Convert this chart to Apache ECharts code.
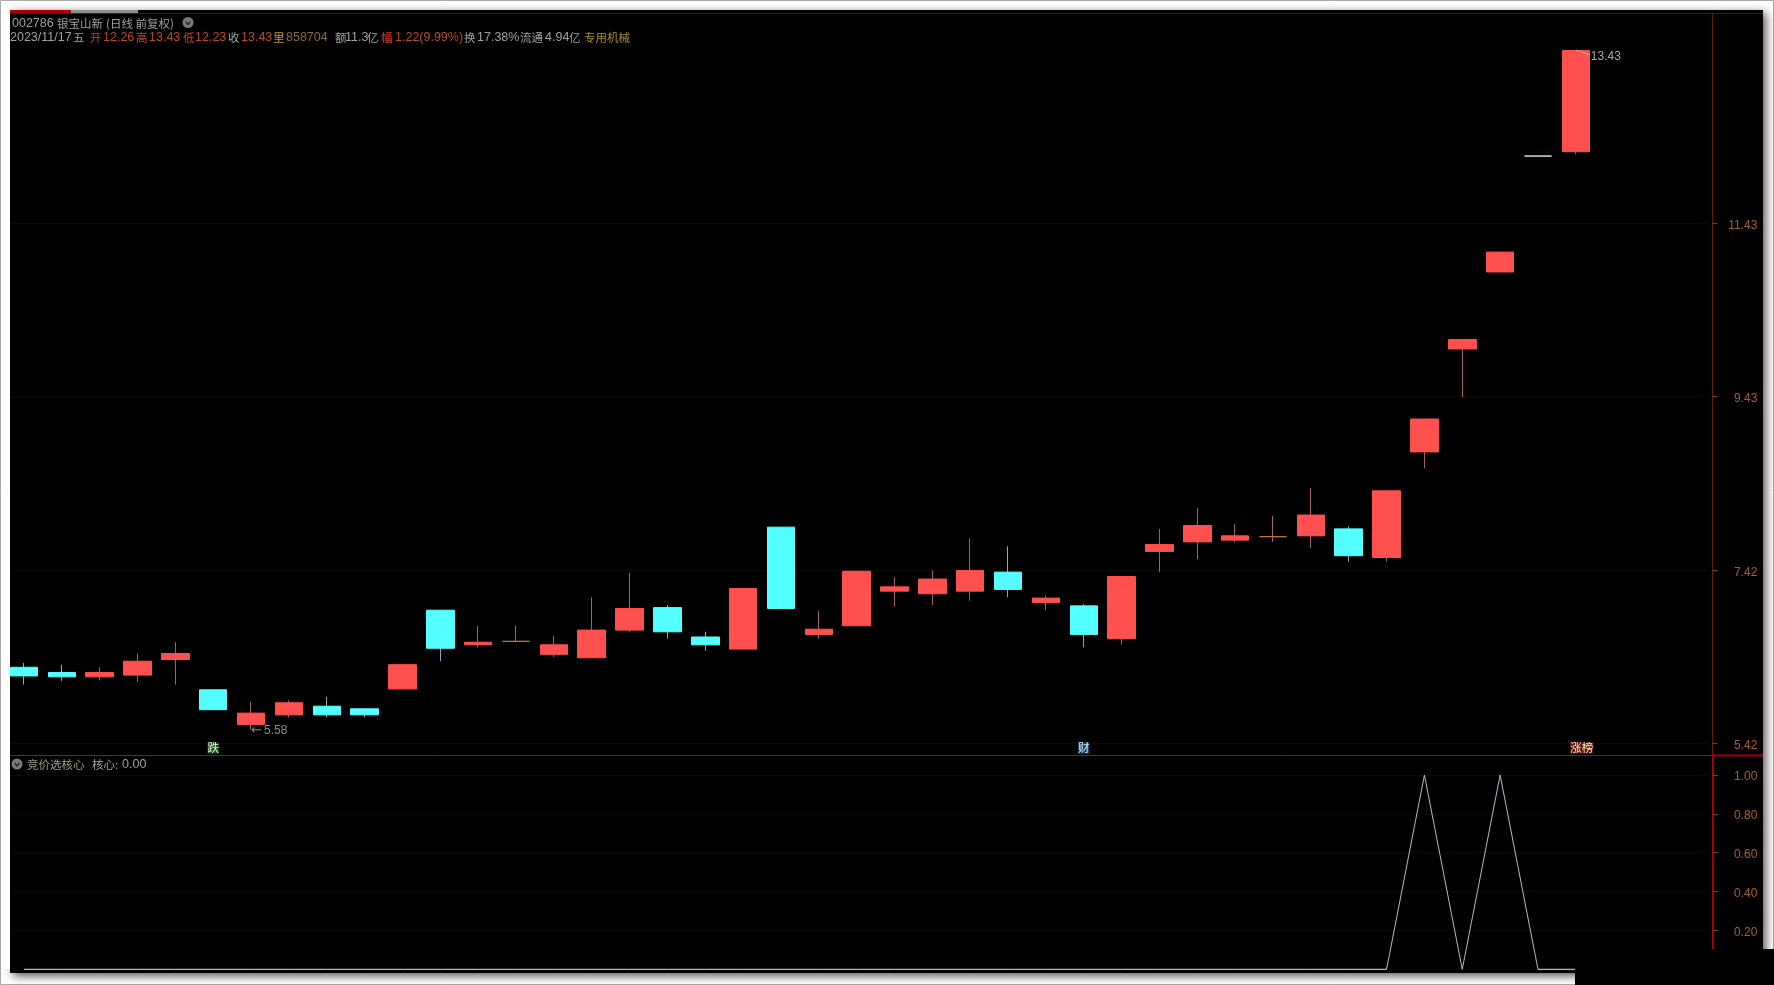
<!DOCTYPE html>
<html>
<head>
<meta charset="utf-8">
<title>002786 银宝山新</title>
<style>
  html, body { margin: 0; padding: 0; background: #fff; }
  #chart { width: 1774px; height: 985px; }
</style>
<script src="https://cdn.jsdelivr.net/npm/echarts@6/dist/echarts.min.js"></script>
</head>
<body>
<div id="chart"></div>
<script>
const days = [
  'D01', 'D02', 'D03', 'D04', 'D05', 'D06', 'D07', 'D08', 'D09', 'D10', 'D11', 'D12', 'D13', 'D14',
  'D15', 'D16', 'D17', 'D18', 'D19', 'D20', 'D21', 'D22', 'D23', 'D24', 'D25', 'D26', 'D27', 'D28',
  'D29', 'D30', 'D31', 'D32', 'D33', 'D34', 'D35', 'D36', 'D37', 'D38', 'D39', 'D40', 'D41', '2023/11/17'
];
const blankSlots = [' ', '  ', '   '];

const opens = [
  6.30, 6.24, 6.19, 6.21, 6.39, 6.04, 5.64, 5.75, 5.85, 5.82, 6.05, 6.96, 6.56, 6.60,
  6.45, 6.41, 6.73, 6.99, 6.65, 6.51, 7.92, 6.68, 6.78, 7.18, 7.15, 7.18, 7.40, 7.05,
  7.01, 6.63, 7.64, 7.75, 7.77, 7.81, 7.82, 7.90, 7.57, 8.79, 9.98, 10.87, 12.21, 12.26
];
const closes = [
  6.20, 6.19, 6.24, 6.37, 6.46, 5.81, 5.77, 5.89, 5.75, 5.75, 6.33, 6.52, 6.59, 6.60,
  6.56, 6.73, 6.98, 6.71, 6.56, 7.21, 6.98, 6.74, 7.41, 7.23, 7.32, 7.42, 7.20, 7.10,
  6.68, 7.35, 7.72, 7.94, 7.82, 7.81, 8.06, 7.59, 8.34, 9.17, 10.09, 11.10, 12.21, 13.43
];
const lows = [
  6.10, 6.14, 6.15, 6.13, 6.10, 5.81, 5.58, 5.72, 5.72, 5.72, 6.05, 6.37, 6.53, 6.59,
  6.42, 6.41, 6.71, 6.63, 6.49, 6.51, 6.98, 6.63, 6.78, 7.00, 7.02, 7.07, 7.11, 6.96,
  6.53, 6.56, 7.40, 7.55, 7.75, 7.75, 7.68, 7.52, 7.52, 8.60, 9.42, 10.87, 12.21, 12.23
];
const highs = [
  6.35, 6.33, 6.30, 6.46, 6.59, 6.04, 5.90, 5.92, 5.96, 5.82, 6.33, 6.96, 6.78, 6.78,
  6.66, 7.11, 7.39, 7.02, 6.71, 7.21, 7.92, 6.95, 7.41, 7.34, 7.42, 7.79, 7.70, 7.13,
  7.03, 7.35, 7.90, 8.14, 7.96, 8.05, 8.37, 7.93, 8.34, 9.17, 10.09, 11.10, 12.21, 13.43
];
const coreValues = [
  0, 0, 0, 0, 0, 0, 0, 0, 0, 0, 0, 0, 0, 0,
  0, 0, 0, 0, 0, 0, 0, 0, 0, 0, 0, 0, 0, 0,
  0, 0, 0, 0, 0, 0, 0, 0, 0, 1, 0, 1, 0, 0
];

const priceTicks = [5.42, 7.42, 9.43, 11.43];
const coreTicks = [0.2, 0.4, 0.6, 0.8, 1.0];
const tagLabels = [[5, '跌', '#1f4a22', '#e4f4dc'], [28, '财', '#17405f', '#d8ecff'], [41, '涨榜', '#5a1410', '#ffe9b8']];

const RED = '#ff5050';
const CYAN = '#54ffff';
const RED_WICK = '#a8644e';
const CYAN_WICK = '#8aa8c0';
const dojiColors = { 13: '#b87a4c', 33: '#b87a4c', 40: '#e8dcc0' };

const GREY = '#a0a0a0';
const ORANGE = '#b84c28';
const HOT = '#d83a20';
const GOLD = '#c49a30';
const TAN = '#8a6c34';
const LINE_1 = 23.5;
const LINE_2 = 38;
const headerSegs = [
  ['002786', 12, LINE_1, GREY], ['银宝山新', 57, LINE_1, GREY], ['(日线 前复权)', 106, LINE_1, GREY],
  ['2023/11/17', 10, LINE_2, GREY], ['五', 73, LINE_2, GREY],
  ['开', 90, LINE_2, HOT], ['12.26', 103, LINE_2, ORANGE],
  ['高', 136, LINE_2, HOT], ['13.43', 149, LINE_2, ORANGE],
  ['低', 183, LINE_2, HOT], ['12.23', 195, LINE_2, ORANGE],
  ['收', 228, LINE_2, GREY], ['13.43', 241, LINE_2, ORANGE],
  ['里', 273, LINE_2, GOLD], ['858704', 286, LINE_2, TAN],
  ['额', 335, LINE_2, GREY], ['11.3', 345, LINE_2, GREY], ['亿', 367, LINE_2, GREY],
  ['幅', 381, LINE_2, HOT], ['1.22(9.99%)', 395, LINE_2, ORANGE],
  ['换', 464, LINE_2, GREY], ['17.38%', 477, LINE_2, GREY],
  ['流通', 520, LINE_2, GREY], ['4.94', 545, LINE_2, GREY], ['亿', 569, LINE_2, GREY],
  ['专用机械', 584, LINE_2, '#a89030'],
  ['竞价选核心', 27, 764.5, '#a39c84'], ['核心:', 92, 764.5, GREY], ['0.00', 122, 764.5, GREY]
];

const FONT_LATIN = '12.5px "Liberation Sans", "Noto Sans CJK SC", sans-serif';
const FONT_CJK = '11.5px "Noto Sans CJK SC", sans-serif';
const isCjk = (text) => /[\u4e00-\u9fff]/.test(text);

const LEFT = 5.07;
const RIGHT = 65.7;
const AXIS_OFFSET = 4;

const hline = (x1, x2, y, stroke, lineWidth, z) => ({
  type: 'line',
  z: z,
  silent: true,
  shape: { x1: x1, y1: y, x2: x2, y2: y },
  style: { stroke: stroke, lineWidth: lineWidth }
});

const statusIcon = (cx, cy) => [
  { type: 'circle', z: 5, silent: true, shape: { cx: cx, cy: cy, r: 5.5 }, style: { fill: '#7a7a7a' } },
  {
    type: 'polyline', z: 6, silent: true,
    shape: { points: [[cx - 2.5, cy - 1], [cx, cy + 2], [cx + 2.5, cy - 1]] },
    style: { stroke: '#222', fill: null, lineWidth: 1.2 }
  }
];

const graphicItems = [
  // window frame
  { type: 'rect', z: -20, silent: true, shape: { x: 0.5, y: 0.5, width: 1773, height: 984 }, style: { fill: '#fff', stroke: '#aaa' } },
  {
    type: 'rect', z: -10, silent: true,
    shape: { x: 10, y: 10, width: 1753, height: 963 },
    style: { fill: '#000', shadowBlur: 9, shadowOffsetX: 3, shadowOffsetY: 3, shadowColor: 'rgba(40,20,20,0.75)' }
  },
  // covers the split line stubs that start left of the black area
  { type: 'rect', z: 40, silent: true, shape: { x: 2, y: 14, width: 8, height: 955 }, style: { fill: '#fff' } },
  { type: 'rect', z: 5, silent: true, shape: { x: 10, y: 10, width: 61, height: 3 }, style: { fill: '#a80000' } },
  { type: 'rect', z: 5, silent: true, shape: { x: 71, y: 10, width: 67, height: 3 }, style: { fill: '#8e8e8e' } },
  hline(10, 1763, 13.5, '#5c1208', 1, 4),
  hline(10, 1712, 755.5, '#7c2410', 1, 4),
  hline(1712, 1763, 755.5, '#a80000', 2, 4),
  // leader of the 13.43 label
  {
    type: 'line', z: 5, silent: true,
    shape: { x1: 1576, y1: 50, x2: 1590, y2: 55 },
    style: { stroke: '#b8a8a8', lineWidth: 1 }
  },
  // screenshot corner
  { type: 'rect', z: 50, silent: true, shape: { x: 1575, y: 949, width: 199, height: 36 }, style: { fill: '#000' } }
].concat(statusIcon(188, 22.5), statusIcon(17, 764), headerSegs.map(([text, x, y, color]) => ({
  type: 'text',
  z: 6,
  silent: true,
  style: { text: text, x: x, y: y, fill: color, font: isCjk(text) ? FONT_CJK : FONT_LATIN, verticalAlign: 'middle' }
})));

const wickData = days.map((d, i) => {
  const color = closes[i] >= opens[i] ? RED_WICK : CYAN_WICK;
  return {
    value: [opens[i], closes[i], lows[i], highs[i]],
    itemStyle: { color: color, color0: color, borderColor: color, borderColor0: color, borderColorDoji: color }
  };
});
const bodyData = days.map((d, i) => {
  const color = dojiColors[i] || (closes[i] >= opens[i] ? RED : CYAN);
  return {
    value: [opens[i], closes[i], Math.min(opens[i], closes[i]), Math.max(opens[i], closes[i])],
    itemStyle: { color: color, color0: color, borderColor: color, borderColor0: color, borderColorDoji: color }
  };
});

// labels sit a little below their tick in the reference
const tickLabel = (values) => ({
  customValues: values,
  formatter: (v) => v.toFixed(2),
  color: '#a8602c',
  fontFamily: 'Liberation Sans',
  fontSize: 12,
  align: 'right',
  margin: 45,
  verticalAlign: 'top',
  lineHeight: 4
});

const option = {
  animation: false,
  backgroundColor: '#fff',
  graphic: { elements: graphicItems },
  grid: [
    { left: LEFT, right: RIGHT, top: 13, height: 742 },
    { left: LEFT, right: RIGHT, top: 755, height: 218 }
  ],
  xAxis: [
    { type: 'category', gridIndex: 0, data: days.concat(blankSlots), show: false },
    { type: 'category', gridIndex: 1, data: days.concat(blankSlots), show: false }
  ],
  yAxis: [
    {
      type: 'value',
      gridIndex: 0,
      position: 'right',
      offset: AXIS_OFFSET,
      min: 5.286,
      max: 13.864,
      axisLine: { show: true, lineStyle: { color: '#6a1a0a', width: 1 } },
      axisTick: { show: true, length: 5, customValues: priceTicks, lineStyle: { color: '#8a3a10' } },
      axisLabel: tickLabel(priceTicks),
      splitLine: { show: true, lineStyle: { color: '#0f0806', width: 1 } }
    },
    {
      type: 'value',
      gridIndex: 1,
      position: 'right',
      offset: AXIS_OFFSET,
      min: -0.019,
      max: 1.103,
      axisLine: { show: true, lineStyle: { color: '#a80000', width: 2 } },
      axisTick: { show: true, length: 6, customValues: coreTicks, lineStyle: { color: '#8a3a10' } },
      axisLabel: tickLabel(coreTicks),
      splitLine: { show: true, lineStyle: { color: '#0f0806', width: 1 } }
    }
  ],
  visualMap: {
    show: false,
    type: 'piecewise',
    seriesIndex: 2,
    dimension: 0,
    pieces: [
      { lte: 36, color: '#efe3cc' },
      { gt: 36, lt: 40, color: '#b6bac4' },
      { gte: 40, color: '#efe3cc' }
    ]
  },
  series: [
    {
      name: 'wick',
      type: 'candlestick',
      xAxisIndex: 0,
      yAxisIndex: 0,
      barWidth: 1,
      z: 2,
      silent: true,
      data: wickData
    },
    {
      name: 'body',
      type: 'candlestick',
      xAxisIndex: 0,
      yAxisIndex: 0,
      barWidth: 28,
      z: 3,
      silent: true,
      itemStyle: { borderWidth: 1 },
      data: bodyData,
      markPoint: {
        silent: true,
        symbol: 'circle',
        symbolSize: 0,
        data: [
          {
            coord: [6, 5.58],
            label: {
              show: true, position: 'right', distance: 0, offset: [0, 1],
              formatter: '{arrow|←}{num|5.58}',
              rich: {
                arrow: { fontFamily: 'DejaVu Sans', fontSize: 13, color: '#8e8e8e' },
                num: { fontFamily: 'Liberation Sans', fontSize: 12, color: '#8e8e8e', padding: [0, 0, 0, 2] }
              }
            }
          },
          {
            coord: [41, 13.43],
            label: {
              show: true, position: 'right', formatter: '13.43', distance: 0,
              offset: [15, 6], color: '#a8a8a8', fontSize: 12, fontFamily: 'Liberation Sans'
            }
          }
        ].concat(tagLabels.map(([index, text, bg, fg]) => ({
          coord: [index, 5.367],
          label: {
            show: true, position: 'inside', formatter: text, color: fg, backgroundColor: bg,
            fontSize: 11.5, fontFamily: 'Noto Sans CJK SC', padding: [0, 0], offset: [text.length > 1 ? 6 : 0, 0]
          }
        })))
      }
    },
    {
      name: '核心',
      type: 'line',
      xAxisIndex: 1,
      yAxisIndex: 1,
      symbol: 'none',
      silent: true,
      z: 3,
      lineStyle: { width: 1 },
      data: coreValues
    }
  ]
};

const chartInstance = echarts.init(document.getElementById('chart'));
chartInstance.setOption(option);
</script>
</body>
</html>
